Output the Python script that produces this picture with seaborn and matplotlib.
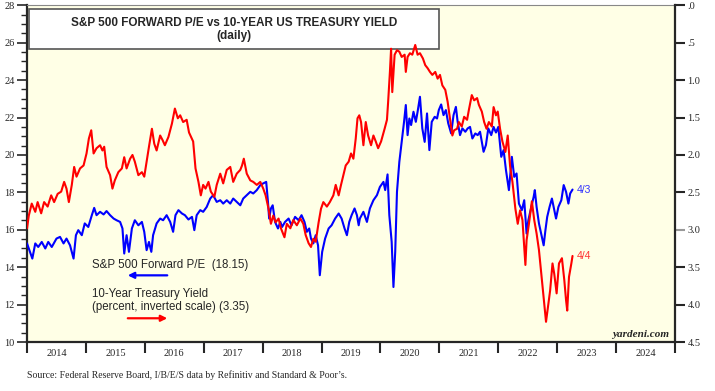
import numpy as np
import pandas as pd
import matplotlib
matplotlib.use('Agg')
import matplotlib.pyplot as plt
import seaborn as sns
from matplotlib.ticker import MultipleLocator, FuncFormatter
from matplotlib.patches import Rectangle

# S&P 500 forward P/E (decimal year, value)
pe_years = [2014.00, 2014.05, 2014.09, 2014.14, 2014.19, 2014.25, 2014.31, 2014.36, 2014.42, 2014.50,
            2014.56, 2014.62, 2014.67, 2014.73, 2014.79, 2014.83, 2014.87, 2014.93, 2014.98, 2015.04,
            2015.10, 2015.14, 2015.18, 2015.24, 2015.30, 2015.35, 2015.41, 2015.47, 2015.52, 2015.58,
            2015.62, 2015.65, 2015.69, 2015.73, 2015.78, 2015.83, 2015.89, 2015.95, 2015.99, 2016.03,
            2016.07, 2016.11, 2016.14, 2016.20, 2016.26, 2016.31, 2016.37, 2016.43, 2016.48, 2016.52,
            2016.57, 2016.63, 2016.68, 2016.74, 2016.80, 2016.84, 2016.88, 2016.94, 2016.99, 2017.05,
            2017.11, 2017.16, 2017.22, 2017.28, 2017.33, 2017.39, 2017.45, 2017.50, 2017.56, 2017.62,
            2017.67, 2017.73, 2017.79, 2017.84, 2017.90, 2017.96, 2018.01, 2018.06, 2018.09, 2018.11,
            2018.14, 2018.17, 2018.21, 2018.26, 2018.30, 2018.33, 2018.38, 2018.44, 2018.49, 2018.55,
            2018.61, 2018.66, 2018.71, 2018.75, 2018.79, 2018.82, 2018.86, 2018.90, 2018.94, 2018.97,
            2019.01, 2019.06, 2019.12, 2019.17, 2019.23, 2019.29, 2019.34, 2019.39, 2019.43, 2019.47,
            2019.51, 2019.56, 2019.60, 2019.63, 2019.65, 2019.71, 2019.77, 2019.82, 2019.88, 2019.94,
            2019.99, 2020.05, 2020.08, 2020.12, 2020.15, 2020.19, 2020.22, 2020.25, 2020.28, 2020.32,
            2020.36, 2020.40, 2020.43, 2020.46, 2020.49, 2020.52, 2020.56, 2020.60, 2020.63, 2020.67,
            2020.71, 2020.75, 2020.79, 2020.83, 2020.87, 2020.92, 2020.96, 2020.99, 2021.03, 2021.07,
            2021.11, 2021.15, 2021.20, 2021.24, 2021.28, 2021.31, 2021.35, 2021.39, 2021.44, 2021.48,
            2021.52, 2021.56, 2021.61, 2021.65, 2021.69, 2021.75, 2021.79, 2021.83, 2021.88, 2021.92,
            2021.96, 2022.00, 2022.05, 2022.09, 2022.13, 2022.18, 2022.23, 2022.27, 2022.31, 2022.35,
            2022.40, 2022.44, 2022.48, 2022.51, 2022.56, 2022.60, 2022.62, 2022.65, 2022.69, 2022.74,
            2022.77, 2022.80, 2022.83, 2022.87, 2022.91, 2022.94, 2022.98, 2023.02, 2023.07, 2023.11,
            2023.15, 2023.19, 2023.22, 2023.26]
pe_values = [15.27, 14.82, 14.46, 15.27, 15.08, 15.35, 15.0, 15.35, 15.08, 15.53,
             15.62, 15.27, 15.53, 15.17, 14.46, 15.71, 15.98, 15.71, 16.34, 16.15,
             16.78, 17.17, 16.78, 16.96, 16.82, 17.0, 16.78, 16.6, 16.51, 16.42,
             16.07, 14.73, 15.71, 14.82, 16.07, 16.51, 16.24, 16.42, 15.89, 14.91,
             15.35, 14.82, 15.71, 16.34, 16.6, 16.51, 16.78, 16.42, 15.89, 16.78,
             17.05, 16.87, 16.78, 16.55, 16.69, 15.98, 16.78, 17.05, 16.96, 17.22,
             17.67, 17.85, 17.49, 17.58, 17.4, 17.58, 17.4, 17.67, 17.49, 17.31,
             17.67, 17.85, 18.03, 17.94, 18.12, 18.39, 18.48, 18.56, 17.49, 16.6,
             17.14, 17.31, 16.42, 16.07, 16.42, 16.15, 16.42, 16.6, 16.24, 16.69,
             16.51, 16.78, 16.42, 15.89, 16.07, 15.53, 15.27, 15.71, 15.17, 13.57,
             14.82, 15.53, 16.07, 16.24, 16.6, 16.87, 16.6, 16.07, 15.71, 16.42,
             16.78, 17.14, 16.78, 16.24, 16.6, 16.96, 16.42, 17.14, 17.58, 17.85,
             18.29, 18.56, 18.12, 18.96, 16.78, 15.35, 12.94, 14.82, 18.03, 19.63,
             20.7, 21.77, 22.67, 21.06, 21.95, 21.6, 22.31, 21.77, 22.31, 23.11,
             21.42, 20.7, 22.22, 20.26, 21.77, 22.04, 21.95, 22.4, 22.7, 22.13,
             22.4, 21.69, 21.15, 22.13, 22.57, 21.77, 21.06, 21.42, 21.24, 21.42,
             21.5, 20.88, 21.15, 21.06, 21.24, 20.17, 20.53, 21.42, 21.06, 21.5,
             21.2, 21.5, 19.9, 20.26, 19.19, 18.12, 19.9, 18.83, 19.01, 17.4,
             17.05, 17.58, 15.8, 16.51, 17.22, 17.76, 18.12, 17.22, 16.34, 15.62,
             15.17, 15.98, 16.69, 17.22, 17.67, 17.22, 16.6, 17.22, 17.58, 18.39,
             18.03, 17.4, 17.94, 18.15]

# 10-year treasury yield (decimal year, percent)
yield_years = [2014.00, 2014.03, 2014.08, 2014.14, 2014.18, 2014.24, 2014.29, 2014.35, 2014.41, 2014.46,
               2014.52, 2014.58, 2014.63, 2014.67, 2014.71, 2014.76, 2014.80, 2014.84, 2014.90, 2014.96,
               2015.01, 2015.05, 2015.09, 2015.13, 2015.18, 2015.24, 2015.28, 2015.31, 2015.35, 2015.41,
               2015.45, 2015.49, 2015.55, 2015.61, 2015.65, 2015.69, 2015.75, 2015.79, 2015.83, 2015.89,
               2015.95, 2015.99, 2016.03, 2016.07, 2016.12, 2016.16, 2016.20, 2016.26, 2016.30, 2016.34,
               2016.40, 2016.46, 2016.51, 2016.56, 2016.60, 2016.65, 2016.71, 2016.75, 2016.82, 2016.86,
               2016.91, 2016.95, 2016.99, 2017.03, 2017.08, 2017.12, 2017.18, 2017.22, 2017.28, 2017.33,
               2017.39, 2017.45, 2017.50, 2017.56, 2017.62, 2017.65, 2017.68, 2017.73, 2017.79, 2017.84,
               2017.90, 2017.96, 2018.01, 2018.05, 2018.10, 2018.14, 2018.18, 2018.22, 2018.27, 2018.31,
               2018.37, 2018.41, 2018.47, 2018.52, 2018.58, 2018.64, 2018.69, 2018.73, 2018.78, 2018.82,
               2018.86, 2018.90, 2018.95, 2018.99, 2019.03, 2019.09, 2019.14, 2019.20, 2019.24, 2019.29,
               2019.33, 2019.37, 2019.41, 2019.46, 2019.50, 2019.54, 2019.58, 2019.61, 2019.64, 2019.67,
               2019.71, 2019.75, 2019.79, 2019.84, 2019.88, 2019.92, 2019.96, 2020.01, 2020.07, 2020.11,
               2020.13, 2020.16, 2020.18, 2020.20, 2020.24, 2020.28, 2020.32, 2020.36, 2020.41, 2020.43,
               2020.46, 2020.50, 2020.54, 2020.59, 2020.63, 2020.67, 2020.72, 2020.76, 2020.80, 2020.84,
               2020.88, 2020.93, 2020.97, 2021.01, 2021.05, 2021.10, 2021.14, 2021.18, 2021.22, 2021.25,
               2021.30, 2021.33, 2021.38, 2021.42, 2021.47, 2021.50, 2021.55, 2021.59, 2021.64, 2021.67,
               2021.72, 2021.76, 2021.80, 2021.84, 2021.89, 2021.92, 2021.96, 2021.99, 2022.03, 2022.07,
               2022.12, 2022.16, 2022.20, 2022.24, 2022.29, 2022.33, 2022.37, 2022.41, 2022.46, 2022.48,
               2022.52, 2022.57, 2022.61, 2022.65, 2022.69, 2022.74, 2022.78, 2022.81, 2022.85, 2022.88,
               2022.92, 2022.95, 2022.99, 2023.03, 2023.08, 2023.12, 2023.15, 2023.17, 2023.20, 2023.24,
               2023.26]
yield_values = [2.98, 2.81, 2.65, 2.76, 2.63, 2.78, 2.63, 2.69, 2.54, 2.63,
                2.52, 2.49, 2.36, 2.45, 2.63, 2.4, 2.16, 2.29, 2.18, 2.14,
                1.98, 1.78, 1.67, 1.98, 1.91, 1.87, 1.94, 1.89, 2.16, 2.27,
                2.45, 2.34, 2.23, 2.18, 2.03, 2.18, 2.05, 2.0, 2.09, 2.27,
                2.23, 2.29, 2.09, 1.89, 1.65, 1.85, 1.94, 1.74, 1.8, 1.87,
                1.76, 1.58, 1.38, 1.51, 1.47, 1.56, 1.53, 1.7, 1.82, 2.18,
                2.36, 2.54, 2.4, 2.45, 2.36, 2.49, 2.56, 2.4, 2.25, 2.38,
                2.2, 2.16, 2.36, 2.25, 2.2, 2.14, 2.05, 2.25, 2.34, 2.36,
                2.4, 2.36, 2.45, 2.54, 2.72, 2.92, 2.81, 2.9, 2.85, 2.98,
                3.1, 2.92, 2.98, 2.87, 2.94, 2.85, 2.92, 3.07, 3.18, 3.23,
                3.12, 3.16, 2.9, 2.72, 2.63, 2.69, 2.63, 2.54, 2.4, 2.54,
                2.4, 2.27, 2.14, 2.09, 1.98, 2.05, 1.78, 1.51, 1.47, 1.56,
                1.87, 1.56, 1.74, 1.87, 1.74, 1.82, 1.91, 1.82, 1.65, 1.53,
                1.29, 0.89, 0.58, 1.16, 0.66, 0.6, 0.62, 0.69, 0.66, 0.89,
                0.69, 0.64, 0.66, 0.53, 0.66, 0.64, 0.71, 0.8, 0.84, 0.89,
                0.93, 0.89, 0.98, 0.93, 1.07, 1.13, 1.29, 1.51, 1.74, 1.67,
                1.65, 1.56, 1.62, 1.49, 1.53, 1.4, 1.2, 1.27, 1.24, 1.33,
                1.42, 1.56, 1.65, 1.56, 1.62, 1.36, 1.47, 1.42, 1.65, 1.82,
                1.96, 1.74, 2.15, 2.36, 2.72, 2.92, 2.74, 2.87, 3.47, 3.14,
                2.92, 2.62, 2.87, 3.05, 3.27, 3.67, 3.99, 4.23, 3.99, 3.81,
                3.45, 3.59, 3.85, 3.45, 3.38, 3.67, 3.94, 4.08, 3.63, 3.45,
                3.35]

year_labels = [str(y) for y in range(2014, 2025)]
pe_last_label = '4/3'
yield_last_label = '4/4'

pe_df = pd.DataFrame({'year': pe_years, 'pe': pe_values})
yield_df = pd.DataFrame({'year': yield_years, 'yield': yield_values})

sns.set_style('ticks')
plt.rcParams['font.family'] = ['Liberation Serif', 'DejaVu Serif']

fig = plt.figure(figsize=(7.15, 3.91), dpi=100)
ax = fig.add_axes([0.0378, 0.1253, 0.9063, 0.8611])
ax.set_facecolor('#FFFFE6')

# Forward P/E on the left axis
sns.lineplot(data=pe_df, x='year', y='pe', color='#0000FF', lw=1.5, ax=ax, zorder=3)
ax.set_xlim(2014, 2025)
ax.set_ylim(10, 28)
ax.set_xlabel('')
ax.set_ylabel('')
ax.yaxis.set_major_locator(MultipleLocator(2))
ax.yaxis.set_minor_locator(MultipleLocator(0.5))
ax.set_xticks(range(2014, 2026))
ax.set_xticklabels([])
ax.set_xticks(np.arange(2014.5, 2025, 1), minor=True)
ax.set_xticklabels(year_labels, minor=True)
ax.tick_params(axis='y', which='major', direction='out', length=7, width=1.2, labelsize=7.5, pad=2, left=True)
ax.tick_params(axis='y', which='minor', direction='out', length=4, width=1.0, left=True)
ax.tick_params(axis='x', which='major', direction='out', length=8, width=1.5, bottom=True)
ax.tick_params(axis='x', which='minor', length=0, labelsize=7.5, pad=5)

# Treasury yield on the right, inverted
ax2 = ax.twinx()
sns.lineplot(data=yield_df, x='year', y='yield', color='#FF0000', lw=1.5, ax=ax2, zorder=3)
ax2.set_ylim(4.5, 0)
ax2.set_xlim(2014, 2025)
ax2.set_ylabel('')
ax2.yaxis.set_major_locator(MultipleLocator(0.5))
ax2.yaxis.set_major_formatter(FuncFormatter(lambda v, p: ('%.1f' % v).lstrip('0') if v < 1 else '%.1f' % v))
ax2.tick_params(axis='y', direction='out', length=7, width=1.5, labelsize=7.5, pad=2, right=True)
for t in ax2.yaxis.get_major_ticks():
    if abs(t.get_loc() - 3.5) < 1e-6:
        t.tick2line.set_markeredgecolor('#999999')

for s in ['left', 'bottom']:
    ax.spines[s].set_linewidth(1.6)
ax.spines['right'].set_visible(False)
ax.spines['top'].set_color('#888888')
ax.spines['top'].set_linewidth(0.8)
for s in ['left', 'bottom', 'top']:
    ax2.spines[s].set_visible(False)
ax2.spines['right'].set_linewidth(1.6)

# Title box
ax2.add_patch(Rectangle((0.0035, 0.869), 0.632, 0.119, transform=ax2.transAxes,
                        facecolor='white', edgecolor='#555555', lw=1.2, zorder=1))
ax2.text(0.3194, 0.947, 'S&P 500 FORWARD P/E vs 10-YEAR US TREASURY YIELD', transform=ax2.transAxes,
         ha='center', va='center', fontsize=8.5, fontweight='bold', family='Liberation Sans', zorder=2)
ax2.text(0.3194, 0.908, '(daily)', transform=ax2.transAxes,
         ha='center', va='center', fontsize=8.5, fontweight='bold', family='Liberation Sans', zorder=2)

# Legend text with arrows
ax2.text(0.1003, 0.228, 'S&P 500 Forward P/E  (18.15)', transform=ax2.transAxes,
         ha='left', va='center', fontsize=8.3, family='Liberation Sans')
ax2.annotate('', xy=(0.1512, 0.198), xytext=(0.2207, 0.198), xycoords='axes fraction',
             arrowprops=dict(arrowstyle='-|>', color='#0000FF', lw=1.6, mutation_scale=9))
ax2.text(0.1003, 0.142, '10-Year Treasury Yield', transform=ax2.transAxes,
         ha='left', va='center', fontsize=8.3, family='Liberation Sans')
ax2.text(0.1003, 0.104, '(percent, inverted scale) (3.35)', transform=ax2.transAxes,
         ha='left', va='center', fontsize=8.3, family='Liberation Sans')
ax2.annotate('', xy=(0.2207, 0.0705), xytext=(0.1512, 0.0705), xycoords='axes fraction',
             arrowprops=dict(arrowstyle='-|>', color='#FF0000', lw=1.6, mutation_scale=9))

# Last-date labels
ax.annotate(pe_last_label, xy=(pe_years[-1], pe_values[-1]), xytext=(3, 0), textcoords='offset points',
            ha='left', va='center', fontsize=7.5, color='#3333FF', family='Liberation Sans')
ax2.annotate(yield_last_label, xy=(yield_years[-1], yield_values[-1]), xytext=(3, 0), textcoords='offset points',
             ha='left', va='center', fontsize=7.5, color='#FF3333', family='Liberation Sans')

ax2.text(0.9907, 0.0229, 'yardeni.com', transform=ax2.transAxes, ha='right', va='center',
         fontsize=8, fontweight='bold', style='italic')

fig.text(0.0378, 0.041, "Source: Federal Reserve Board, I/B/E/S data by Refinitiv and Standard & Poor\u2019s.",
         ha='left', va='center', fontsize=7)

fig.savefig('out.png', dpi=100)
